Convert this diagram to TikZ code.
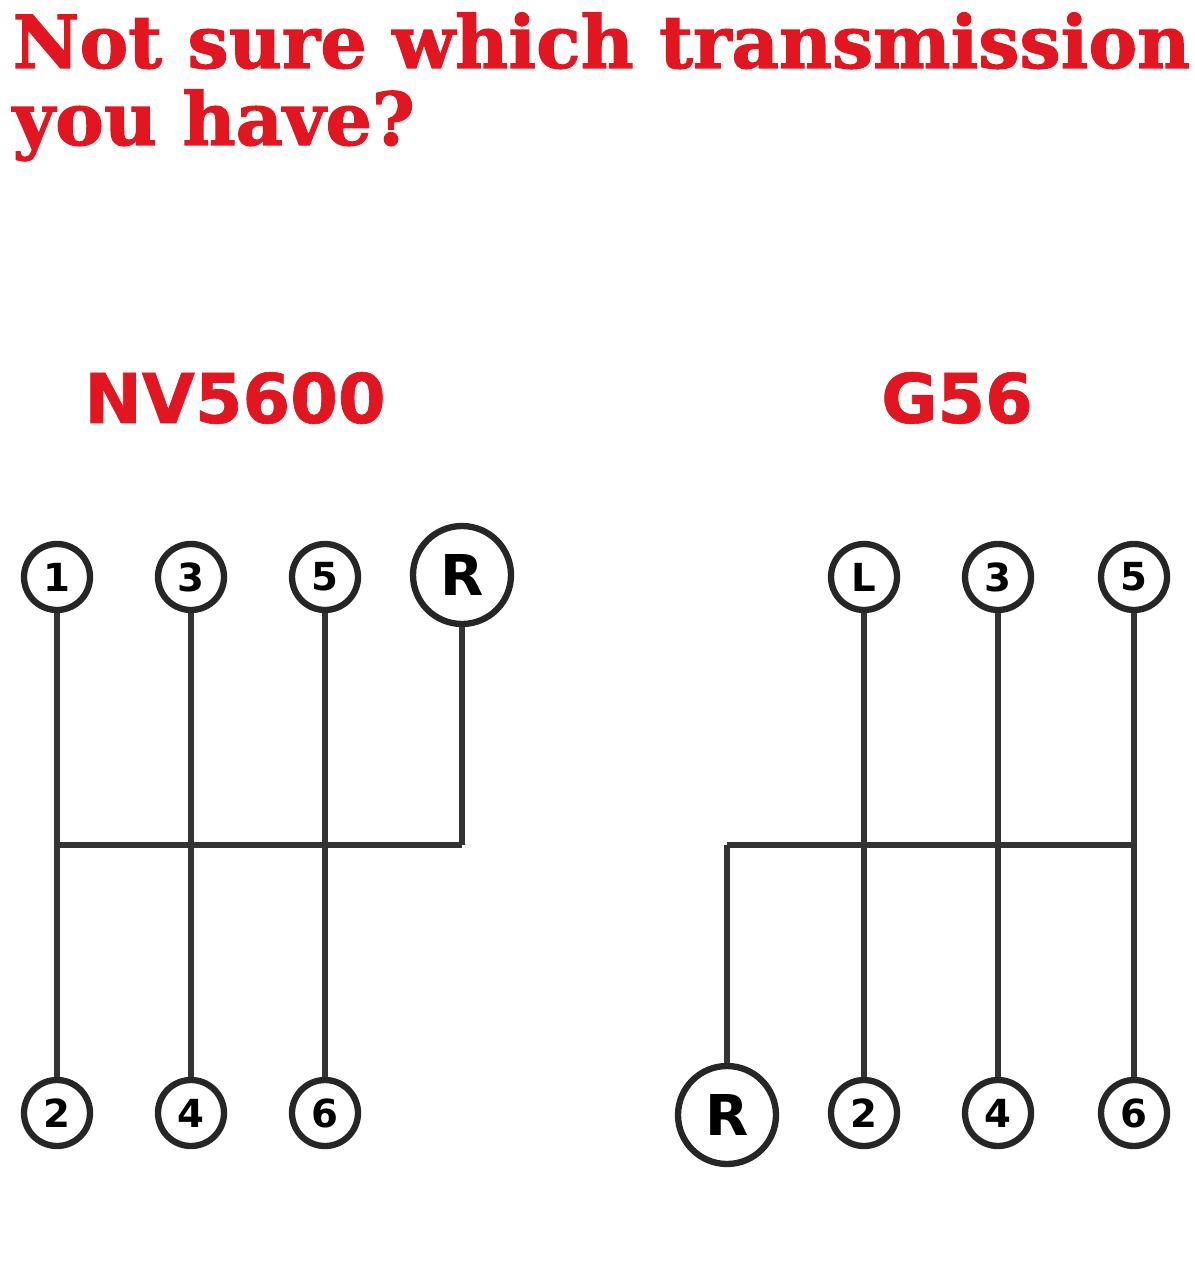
\documentclass[tikz,border=0pt]{standalone}
\usepackage{fontspec}
\setmainfont{DejaVu Sans}
\newfontfamily\titlefont[BoldFeatures={FakeBold=1.5}]{DejaVu Serif}
\newfontfamily\headfont[BoldFeatures={FakeBold=1}]{DejaVu Sans}
\usetikzlibrary{positioning}
\definecolor{signred}{RGB}{226,22,32}
\tikzset{
  gear/.style={circle, draw=black!85, line width=1.8pt, fill=white,
               inner sep=0pt, minimum size=0.66cm, font=\bfseries\fontsize{11}{11}\selectfont},
  revgear/.style={gear, minimum size=0.98cm, font=\bfseries\fontsize{16}{16}\selectfont},
  gate/.style={draw=black!80, line width=1.5pt},
  heading/.style={text=signred, font=\headfont\bfseries\fontsize{19.5}{19.5}\selectfont, inner sep=0pt},
  title/.style={text=signred, font=\titlefont\bfseries\fontsize{20.8}{20.8}\selectfont,
                inner sep=0pt, anchor=base west},
}

\begin{document}
\begin{tikzpicture}[x=1cm, y=1cm]
    \useasboundingbox (0,0) rectangle (11.94,-12.80);
    %% title
    \node[title] (t1) at (0.12,-0.68) {Not sure which transmission};
    \node[title] (t2) at (0.12,-1.45) {you have?};
    %% NV5600: 1-3-5 up, R far right
    \begin{scope}
      \node[heading] (nv) at (2.35,-3.98) {NV5600};
      \node[gear]    (n1) at (0.57,-5.77)  {1};
      \node[gear]    (n3) at (1.91,-5.77)  {3};
      \node[gear]    (n5) at (3.25,-5.77)  {5};
      \node[revgear] (nR) at (4.62,-5.75)  {R};
      \node[gear]    (n2) at (0.57,-11.13) {2};
      \node[gear]    (n4) at (1.91,-11.13) {4};
      \node[gear]    (n6) at (3.25,-11.13) {6};
      \coordinate (nl) at (0.57,-8.45);
      \coordinate (nr) at (4.62,-8.45);
      \draw[gate] (n1) -- (n2);
      \draw[gate] (n3) -- (n4);
      \draw[gate] (n5) -- (n6);
      \draw[gate] (nl) -- (nr);
      \draw[gate] (nR) -- (nr);
    \end{scope}
    %% G56: L-3-5 up, R far left down
    \begin{scope}
      \node[heading] (gh) at (9.57,-3.98) {G56};
      \node[gear]    (gL) at (8.64,-5.77)  {L};
      \node[gear]    (g3) at (9.98,-5.77)  {3};
      \node[gear]    (g5) at (11.34,-5.77) {5};
      \node[revgear] (gR) at (7.27,-11.15) {R};
      \node[gear]    (g2) at (8.64,-11.13) {2};
      \node[gear]    (g4) at (9.98,-11.13) {4};
      \node[gear]    (g6) at (11.34,-11.13) {6};
      \coordinate (gl) at (7.27,-8.45);
      \coordinate (gr) at (11.34,-8.45);
      \draw[gate] (gL) -- (g2);
      \draw[gate] (g3) -- (g4);
      \draw[gate] (g5) -- (g6);
      \draw[gate] (gl) -- (gr);
      \draw[gate] (gl) -- (gR);
    \end{scope}
  \end{tikzpicture}
\end{document}
